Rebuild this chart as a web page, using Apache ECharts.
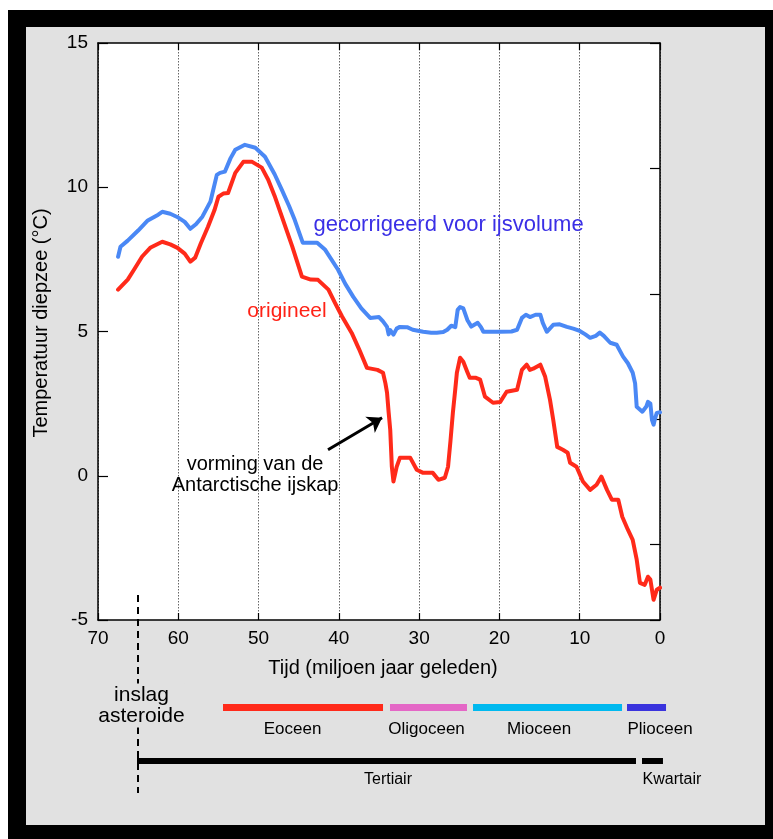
<!DOCTYPE html>
<html><head><meta charset="utf-8">
<script src="https://cdn.jsdelivr.net/npm/echarts@6/dist/echarts.min.js"></script>
<style>
html,body{margin:0;padding:0;background:#fff;width:773px;height:839px;overflow:hidden}
#frame{position:absolute;left:8px;top:10px;width:765px;height:829px;background:#000}
#panel{position:absolute;left:26px;top:27px;width:739px;height:798px;background:#e1e1e1}
#chart{position:absolute;left:0;top:0;width:773px;height:839px}
</style></head><body>
<div id="frame"></div><div id="panel"></div><div id="chart"></div>
<script>
// ---- data (time in Ma before present, temperature in °C) ----
const corrTime = [67.5,67.2,66.3,65.0,63.8,62.5,62.0,61.0,60.0,59.2,58.5,57.8,57.0,56.0,55.2,54.8,54.2,53.5,52.9,51.7,50.4,49.2,48.0,47.1,46.2,45.5,44.5,43.5,42.7,41.7,40.1,39.2,38.2,37.2,36.1,35.0,34.5,34.0,33.8,33.6,33.2,32.8,32.4,31.5,30.8,29.5,28.5,27.8,27.0,26.5,26.0,25.8,25.5,25.2,24.9,24.5,24.0,23.5,23.3,22.7,22.3,22.0,20.5,19.9,18.5,17.8,17.2,16.7,16.2,15.5,14.9,14.6,14.1,13.3,12.5,11.6,10.8,10.0,9.3,8.7,8.0,7.5,7.0,6.2,5.4,4.6,4.0,3.4,3.1,2.9,2.2,1.7,1.5,1.2,1.0,0.8,0.6,0.4,0.0];
const corrTemp = [7.59,7.94,8.15,8.5,8.85,9.05,9.15,9.08,8.95,8.8,8.56,8.72,8.98,9.5,10.43,10.5,10.54,11.0,11.3,11.47,11.37,11.06,10.45,9.91,9.35,8.87,8.08,8.08,8.08,7.83,7.14,6.65,6.2,5.8,5.47,5.5,5.35,5.16,4.9,5.05,4.89,5.1,5.16,5.15,5.06,4.99,4.96,4.96,4.98,5.06,5.2,5.2,5.15,5.75,5.85,5.8,5.4,5.17,5.2,5.3,5.15,4.99,4.99,4.99,5.0,5.06,5.47,5.58,5.5,5.58,5.58,5.3,4.99,5.23,5.25,5.16,5.1,5.02,4.9,4.78,4.85,4.96,4.85,4.61,4.54,4.13,3.9,3.57,3.2,2.39,2.22,2.4,2.56,2.5,1.94,1.77,2.0,2.18,2.2];
const origTime = [67.5,66.3,65.5,64.5,63.5,62.0,61.0,60.1,59.2,58.5,57.9,57.2,56.3,55.5,55.0,54.4,53.8,52.9,51.9,50.8,49.6,48.8,48.0,47.1,45.8,44.6,43.5,42.6,41.3,40.5,39.6,38.4,37.5,36.5,35.2,34.5,34.2,34.0,33.8,33.6,33.4,33.2,32.8,32.4,32.1,31.1,30.3,29.5,28.3,27.6,26.8,26.4,26.1,25.8,25.5,25.3,24.9,24.5,24.0,23.7,23.0,22.4,21.8,20.8,19.9,19.1,17.8,17.2,16.6,16.2,15.8,14.9,14.3,13.7,13.3,12.8,12.1,11.5,11.2,10.4,9.6,8.7,7.9,7.3,6.6,6.0,5.2,4.7,4.0,3.4,2.9,2.5,1.9,1.5,1.2,1.0,0.8,0.4,0.0];
const origTemp = [6.45,6.8,7.15,7.6,7.9,8.11,8.02,7.9,7.7,7.42,7.56,8.05,8.63,9.2,9.67,9.78,9.8,10.5,10.88,10.88,10.68,10.26,9.7,8.98,7.94,6.9,6.8,6.79,6.45,6.0,5.52,4.95,4.4,3.74,3.67,3.57,3.2,2.88,2.2,1.59,0.31,-0.2,0.31,0.62,0.62,0.62,0.21,0.1,0.1,-0.14,-0.07,0.31,1.2,2.18,3.0,3.57,4.09,3.95,3.6,3.4,3.4,3.33,2.74,2.53,2.56,2.91,2.98,3.67,3.85,3.67,3.71,3.85,3.43,2.63,1.94,1.0,0.9,0.8,0.45,0.31,-0.2,-0.49,-0.31,-0.03,-0.49,-0.83,-0.83,-1.42,-1.87,-2.22,-2.91,-3.71,-3.78,-3.5,-3.6,-3.95,-4.3,-3.95,-3.88];

const timeAxisRange = [0, 70];       // x axis, reversed
const tempAxisRange = [-5, 15];      // left y axis
const tempTickStep = 5;
const timeTickStep = 10;

const epochNames = ['Eoceen','Oligoceen','Mioceen','Plioceen'];
const epochStart = [54.43, 33.63, 23.29, 4.11];
const epochEnd   = [34.5, 24.04, 4.73, -0.75];
const periodNames = ['Tertiair','Kwartair'];
const periodStart = [65.0, 2.24];
const periodEnd   = [2.99, -0.37];
const impactTime = 65.0;

// ---- styles / layout ----
const epochColors = ['#ff2a1a','#e467c6','#00b9ef','#3a33dd'];
const FONT = "'Liberation Sans', Arial, Helvetica, sans-serif";
const epochLabelTime = [45.77, 29.08, 15.07, 0.0];
const periodLabelTime = [33.88, -1.49];
const rowBars = 0.434, rowEpochLabel = 0.323, rowPeriod = 0.1616, rowPeriodLabel = 0.066;

const pairs = (xs, ys) => xs.map((x, i) => [x, ys[i]]);

const chart = echarts.init(document.getElementById('chart'), null, {renderer: 'canvas'});

const timelineLines = [];
epochNames.forEach((n, i) => timelineLines.push({
  coords: [[epochStart[i], rowBars], [epochEnd[i], rowBars]],
  lineStyle: {color: epochColors[i], width: 7, type: 'solid'}
}));
periodNames.forEach((n, i) => timelineLines.push({
  coords: [[periodStart[i], rowPeriod], [periodEnd[i], rowPeriod]],
  lineStyle: {color: '#000', width: 6, type: 'solid'}
}));
timelineLines.push({coords: [[impactTime, 0.207], [impactTime, 0.116]], lineStyle: {color: '#000', width: 2, type: 'solid'}});
timelineLines.push({coords: [[impactTime, 1], [impactTime, 0]], lineStyle: {color: '#000', width: 2, type: [7, 5]}});

const plainLabel = {show: true, position: 'inside', formatter: '{b}', fontFamily: FONT,
  textBorderWidth: 0, textBorderColor: 'transparent', textShadowBlur: 0, opacity: 1};

const timelineLabels = [];
epochNames.forEach((n, i) => timelineLabels.push({name: n, value: [epochLabelTime[i], rowEpochLabel]}));
periodNames.forEach((n, i) => timelineLabels.push({name: n, value: [periodLabelTime[i], rowPeriodLabel], label: {fontSize: 16}}));
timelineLabels.push({name: 'inslag\nasteroide', value: [64.58, 0.442],
  label: {fontSize: 21, lineHeight: 21, backgroundColor: '#e1e1e1', padding: [1, 0, 1, 0]}});

const option = {
  animation: false,
  textStyle: {fontFamily: FONT},
  grid: [
    {left: 98, right: 113, top: 43, bottom: 219, show: true, backgroundColor: '#fff', borderWidth: 0, containLabel: false},
    {left: 98, right: 113, top: 595, bottom: 46, show: false, containLabel: false}
  ],
  xAxis: [
    {gridIndex: 0, type: 'value', min: timeAxisRange[0], max: timeAxisRange[1], interval: timeTickStep, inverse: true, position: 'bottom',
     axisLine: {show: true, onZero: false, lineStyle: {color: '#000', width: 1.5}},
     axisTick: {show: true, inside: true, length: 7, lineStyle: {color: '#000', width: 1.2}},
     axisLabel: {show: true, color: '#000', fontSize: 19, margin: 9, fontFamily: FONT},
     splitLine: {show: true, lineStyle: {color: '#666', width: 1, type: [1.5, 1.5]}},
     name: 'Tijd (miljoen jaar geleden)', nameLocation: 'middle', nameGap: 38,
     nameTextStyle: {color: '#000', fontSize: 20, fontFamily: FONT, padding: [0, 0, 0, 8]}},
    {gridIndex: 0, type: 'value', min: timeAxisRange[0], max: timeAxisRange[1], interval: timeTickStep, inverse: true, position: 'top',
     axisLine: {show: true, onZero: false, lineStyle: {color: '#000', width: 1.5}},
     axisTick: {show: true, inside: true, length: 7, lineStyle: {color: '#000', width: 1.2}},
     axisLabel: {show: false}, splitLine: {show: false}},
    {gridIndex: 1, type: 'value', min: timeAxisRange[0], max: timeAxisRange[1], inverse: true, show: false}
  ],
  yAxis: [
    {gridIndex: 0, type: 'value', min: tempAxisRange[0], max: tempAxisRange[1], interval: tempTickStep, position: 'left',
     axisLine: {show: true, onZero: false, lineStyle: {color: '#000', width: 1.5}},
     axisTick: {show: true, inside: true, length: 10, lineStyle: {color: '#000', width: 1.2}},
     axisLabel: {show: true, color: '#000', fontSize: 19, margin: 10, fontFamily: FONT},
     splitLine: {show: false},
     name: 'Temperatuur diepzee (°C)', nameLocation: 'middle', nameGap: 47, nameRotate: 90,
     nameTextStyle: {color: '#000', fontSize: 20, fontFamily: FONT, padding: [0, 0, 0, 17]}},
    {gridIndex: 0, type: 'value', min: 0, max: 4.6, interval: 1, inverse: true, position: 'right',
     axisLine: {show: true, onZero: false, lineStyle: {color: '#000', width: 1.5}},
     axisTick: {show: true, inside: true, length: 10, lineStyle: {color: '#000', width: 1.2}},
     axisLabel: {show: false}, splitLine: {show: false}},
    {gridIndex: 1, type: 'value', min: 0, max: 1, show: false}
  ],
  series: [
    {name: 'gecorrigeerd voor ijsvolume', type: 'line', xAxisIndex: 0, yAxisIndex: 0,
     data: pairs(corrTime, corrTemp), showSymbol: false, symbol: 'none', silent: true, z: 3,
     lineStyle: {color: '#4a88f5', width: 4, join: 'round', cap: 'round'}},
    {name: 'origineel', type: 'line', xAxisIndex: 0, yAxisIndex: 0,
     data: pairs(origTime, origTemp), showSymbol: false, symbol: 'none', silent: true, z: 3,
     lineStyle: {color: '#ff2a1a', width: 4, join: 'round', cap: 'round'}},
    {type: 'scatter', xAxisIndex: 0, yAxisIndex: 0, symbolSize: 0, silent: true, z: 5,
     itemStyle: {opacity: 1, color: 'transparent'},
     label: plainLabel,
     data: [
       {name: 'gecorrigeerd voor ijsvolume', value: [26.34, 8.70], label: {color: '#3a2fe6', fontSize: 22}},
       {name: 'origineel', value: [46.46, 5.72], label: {color: '#ff2216', fontSize: 21}},
       {name: 'vorming van de\nAntarctische ijskap', value: [50.44, 0.02], label: {color: '#000', fontSize: 20, lineHeight: 21}}
     ]},
    {type: 'lines', coordinateSystem: 'cartesian2d', xAxisIndex: 0, yAxisIndex: 0, silent: true, z: 5,
     symbol: ['none', 'arrow'], symbolSize: 14,
     lineStyle: {color: '#000', width: 3, curveness: 0, opacity: 1},
     data: [{coords: [[41.35, 0.90], [34.62, 2.01]]}]},
    {type: 'lines', coordinateSystem: 'cartesian2d', xAxisIndex: 2, yAxisIndex: 2, silent: true, clip: false, z: 4,
     symbol: 'none', lineStyle: {opacity: 1, curveness: 0, cap: 'butt'}, data: timelineLines},
    {type: 'scatter', xAxisIndex: 2, yAxisIndex: 2, symbolSize: 0, silent: true, clip: false, z: 6,
     itemStyle: {opacity: 1, color: 'transparent'},
     label: Object.assign({}, plainLabel, {color: '#000', fontSize: 17}),
     data: timelineLabels}
  ]
};
chart.setOption(option);
</script>
</body></html>
